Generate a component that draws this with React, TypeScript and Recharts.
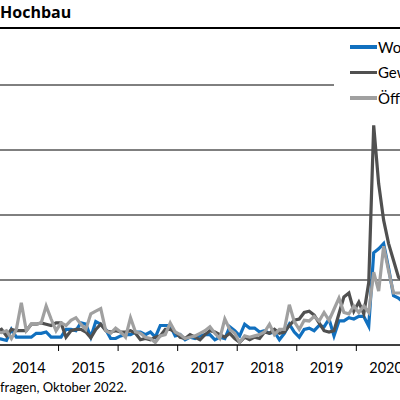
import { LineChart, Line, XAxis, YAxis, CartesianGrid } from "recharts";

// Monthly survey values (share of firms, %), Dec 2013 – Nov 2020.
// Only the part up to the right edge of the crop is kept.
const START_YEAR = 2013;
const START_MONTH = 11; // December

const wohnungsbau = [
  0.5,
  0.45, 0.35, 1.2, 0.6, 0.6, 0.6, 0.6, 0.9, 0.9, 1.0, 0.6, 0.6,
  0.6, 1.2, 1.2, 1.1, 1.7, 1.6, 0.6, 1.8, 1.6, 1.2, 0.5, 0.5,
  0.7, 0.8, 0.8, 1.0, 1.0, 0.8, 1.0, 0.6, 1.5, 1.5, 1.5, 0.7,
  0.8, 0.4, 0.6, 0.5, 0.7, 0.8, 0.8, 0.4, 0.6, 0.5, 1.4, 1.1,
  0.7, 1.6, 1.3, 1.3, 1.0, 1.1, 0.9, 1.0, 0.4, 0.9, 1.6, 1.0,
  0.6, 1.2, 1.3, 1.1, 1.5, 1.4, 2.0, 0.7, 1.85, 1.85, 2.1, 2.0,
  2.2, 2.2, 1.45, 7.1, 7.4, 7.8, 5.9, 3.8, 3.6, 3.3, 3.2,
];

const gewerblich = [
  1.0,
  1.2, 0.7, 1.2, 1.1, 1.1, 1.1, 1.6, 1.6, 1.7, 1.6, 1.5, 1.7,
  1.7, 0.6, 1.1, 1.2, 1.2, 1.0, 0.55, 1.2, 1.6, 1.1, 1.0, 1.1,
  1.0, 1.0, 1.1, 0.9, 0.4, 0.5, 0.4, 0.6, 0.7, 1.2, 1.2, 1.0,
  0.6, 0.5, 0.8, 0.6, 0.4, 0.8, 1.1, 1.0, 0.8, 0.6, 0.9, 0.5,
  0.2, 0.6, 0.4, 0.6, 0.5, 1.0, 0.9, 1.2, 0.9, 1.0, 1.5, 1.9,
  2.0, 2.5, 2.6, 2.3, 1.7, 1.1, 1.0, 1.1, 2.4, 3.7, 4.0, 2.6,
  3.3, 2.4, 4.8, 16.9, 12.4, 9.6, 7.8, 6.5, 5.2, 4.9, 4.8,
];

const oeffentlich = [
  1.0,
  0.95, 1.1, 0.5, 1.2, 3.25, 1.1, 1.6, 1.6, 1.7, 3.0, 2.0, 1.1,
  1.7, 1.5, 1.9, 2.1, 1.6, 1.2, 2.4, 2.6, 2.8, 1.1, 0.9, 1.3,
  1.0, 0.6, 2.1, 1.0, 0.9, 0.6, 0.5, 0.2, 0.7, 0.8, 1.7, 1.0,
  0.8, 0.5, 0.6, 0.7, 0.9, 1.1, 1.4, 0.9, 0.5, 2.0, 1.2, 0.9,
  0.2, 0.7, 0.6, 0.7, 0.8, 1.0, 1.6, 0.8, 1.2, 1.2, 3.1, 1.8,
  1.2, 1.9, 1.85, 2.2, 1.85, 2.5, 1.9, 2.75, 3.6, 2.5, 2.4, 3.0,
  2.5, 3.0, 2.5, 5.6, 4.15, 7.6, 5.7, 4.0, 4.0, 4.0, 3.8,
];

const yearTicks = [2015, 2016, 2017, 2018, 2019, 2020, 2021];
const yearLabels = [2014, 2015, 2016, 2017, 2018, 2019, 2020];
const valueTicks = [0, 5, 10, 15, 20];

const series = [
  { key: "w", name: "Wohnungsbau", color: "#1170bf", values: wohnungsbau },
  { key: "g", name: "Gewerblicher Hochbau", color: "#505050", values: gewerblich },
  { key: "o", name: "Öffentlicher Hochbau", color: "#a0a0a0", values: oeffentlich },
];

// each month sits in the middle of its slot on the time axis
const data = wohnungsbau.map((_, i) => {
  const m = START_MONTH + i;
  const row: Record<string, number> = {
    t: START_YEAR + Math.floor(m / 12) + ((m % 12) + 0.5) / 12,
  };
  series.forEach((s) => (row[s.key] = s.values[i]));
  return row;
});

const font = "Lato, 'Open Sans', sans-serif";

export default function App() {
  return (
    <div
      style={{
        position: "absolute",
        left: 0,
        top: 0,
        width: 400,
        height: 400,
        overflow: "hidden",
        background: "#fff",
        fontFamily: font,
      }}
    >
      {/* Title and rule */}
      <div
        style={{
          position: "absolute",
          left: 0,
          top: 4,
          fontFamily: "'Open Sans', sans-serif",
          fontWeight: 700,
          fontSize: 16,
          lineHeight: "16px",
          color: "#000",
          whiteSpace: "nowrap",
        }}
      >
        Hochbau
      </div>
      <div style={{ position: "absolute", left: 0, top: 27, width: 400, height: 2, background: "#000" }} />

      {/* half-pixel offset keeps the 1px grid lines crisp */}
      <LineChart
        width={536}
        height={400}
        data={data}
        margin={{ top: 84, right: 0, bottom: 0, left: 0 }}
        style={{ position: "absolute", left: -1.5, top: 0.5 }}
      >
        <CartesianGrid vertical={false} stroke="#000" strokeWidth={1} />
        <YAxis hide domain={[0, 20]} ticks={valueTicks} />
        <XAxis
          xAxisId="b_label"
          dataKey="t"
          type="number"
          domain={[2014, 2023]}
          allowDataOverflow
          ticks={yearLabels.map((y) => y + 0.5)}
          interval={0}
          tickFormatter={(v) => String(Math.floor(v))}
          axisLine={false}
          tickLine={false}
          height={46}
          tick={{ fill: "#000", fontSize: 14.5, fontFamily: font }}
        />
        <XAxis
          xAxisId="a_tick"
          dataKey="t"
          type="number"
          domain={[2014, 2023]}
          allowDataOverflow
          ticks={yearTicks}
          tickFormatter={() => ""}
          tickSize={6}
          height={10}
          stroke="#000"
          tickLine={{ stroke: "#000" }}
        />
        {series.map((s) => (
          <Line
            key={s.key}
            xAxisId="a_tick"
            dataKey={s.key}
            name={s.name}
            stroke={s.color}
            strokeWidth={3.2}
            dot={false}
            type="linear"
            isAnimationActive={false}
          />
        ))}
      </LineChart>

      {/* Legend (white box hides the top grid line behind it) */}
      <div
        style={{
          position: "absolute",
          left: 334,
          top: 34,
          width: 200,
          height: 74,
          background: "#fff",
          paddingLeft: 16,
          boxSizing: "border-box",
        }}
      >
        {series.map((s) => (
          <div
            key={s.key}
            style={{ display: "flex", alignItems: "center", height: 25.5, whiteSpace: "nowrap" }}
          >
            <span style={{ flexShrink: 0, width: 27, height: 3.5, background: s.color, marginRight: 1 }} />
            <span style={{ fontSize: 15, color: "#000" }}>{s.name}</span>
          </div>
        ))}
      </div>

      {/* Source note, cut off like the reference */}
      <div
        style={{
          position: "absolute",
          left: 0,
          top: 381,
          fontSize: 13,
          lineHeight: "13px",
          color: "#000",
          whiteSpace: "nowrap",
        }}
      >
        fragen, Oktober 2022.
      </div>
    </div>
  );
}
